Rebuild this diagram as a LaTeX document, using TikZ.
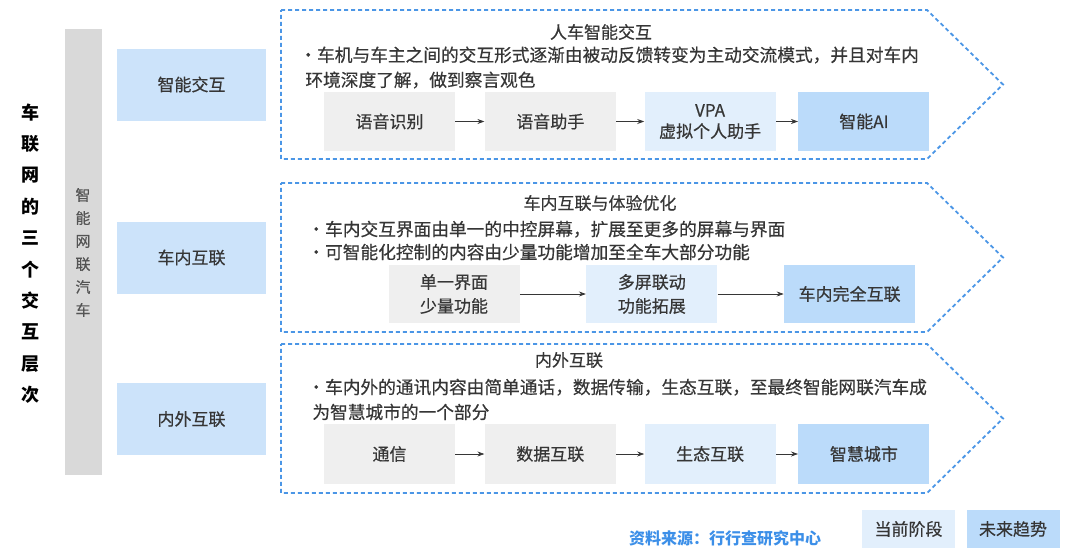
\documentclass[tikz,border=0pt]{standalone}
\usepackage{fontspec}
\setmainfont{Noto Sans CJK SC}
\newfontfamily\medfont{Noto Sans CJK SC}[FakeBold=0.5]
\usetikzlibrary{positioning,arrows.meta}
\definecolor{barGrey}{HTML}{D9D9D9}
\definecolor{sideBlue}{HTML}{CCE3FA}
\definecolor{oldGrey}{HTML}{EFEFEF}
\definecolor{nowBlue}{HTML}{E2EFFC}
\definecolor{futBlue}{HTML}{BBDBFA}
\definecolor{dashBlue}{HTML}{4B96E6}
\definecolor{txt}{HTML}{363636}
\definecolor{srcBlue}{HTML}{3C8FE8}

\begin{document}
\begin{tikzpicture}[x=1pt, y=-1pt, thick,
    stagebox/.style = {rectangle, inner sep=0pt, minimum width=131pt, minimum height=59pt, text=txt, align=center, font=\medfont\fontsize{17}{24}\selectfont},
    oldbox/.style = {stagebox, fill=oldGrey},
    nowbox/.style = {stagebox, fill=nowBlue},
    futbox/.style = {stagebox, fill=futBlue},
    sidebox/.style = {rectangle, inner sep=0pt, fill=sideBlue, minimum width=149pt, minimum height=72pt, text=txt, font=\medfont\fontsize{17}{20}\selectfont},
    keybox/.style = {rectangle, inner sep=0pt, minimum width=93pt, minimum height=38pt, text=txt, font=\medfont\fontsize{17}{20}\selectfont},
    notetext/.style = {inner sep=0pt, anchor=west, align=left, text=txt, font=\medfont\fontsize{17.7}{25}\selectfont},
    headtext/.style = {inner sep=0pt, text=txt, font=\medfont\fontsize{17}{20}\selectfont},
    panelline/.style = {draw=dashBlue, line width=1.8pt, dash pattern=on 4pt off 3pt},
    linkarrow/.style = {-{Stealth[length=7pt,width=5pt]}, line width=0.7pt, draw=txt}
    ]
\useasboundingbox (0,0) rectangle (1080,555);

\node[align=center, inner sep=0pt, font=\fontsize{18}{31.4}\selectfont\bfseries] (title) at (30,253.5) {车\\联\\网\\的\\三\\个\\交\\互\\层\\次};
\node[fill=barGrey, inner sep=0pt, minimum width=37pt, minimum height=446pt] (bar) at (83.5,252) {};
\node[align=center, inner sep=0pt, text=txt!85, font=\medfont\fontsize{15}{23}\selectfont] (bartext) at (83,252.5) {智\\能\\网\\联\\汽\\车};

\node[sidebox] (l1) at (191.5,84.5) {智能交互};
\node[sidebox] (l2) at (191.5,257.5) {车内互联};
\node[sidebox] (l3) at (191.5,419) {内外互联};

\draw[panelline] (281,10) -- (927,10) -- (1003,84.5) -- (927,159) -- (281,159) -- cycle;
\draw[panelline] (281,183) -- (927,183) -- (1003,257.5) -- (927,332) -- (281,332) -- cycle;
\draw[panelline] (281,344) -- (927,344) -- (1003,418.5) -- (927,493) -- (281,493) -- cycle;

\node[headtext] (h1) at (601,32) {人车智能交互};
\node[notetext] (n1) at (299,67.5) {•车机与车主之间的交互形式逐渐由被动反馈转变为主动交流模式，并且对车内\\\hspace*{6pt}环境深度了解，做到察言观色};
\node[oldbox] (s1) at (389.5,121.5) {语音识别};
\node[oldbox] (s2) [right=29pt of s1] {语音助手};
\node[nowbox, font=\medfont\fontsize{17}{21}\selectfont] (s3) [right=28pt of s2] {VPA\\虚拟个人助手};
\node[futbox] (s4) [right=22pt of s3] {智能AI};

\node[headtext] (h2) at (600,203) {车内互联与体验优化};
\node[notetext, font=\medfont\fontsize{17.7}{23}\selectfont] (n2) at (307,240.5) {•车内交互界面由单一的中控屏幕，扩展至更多的屏幕与界面\\•可智能化控制的内容由少量功能增加至全车大部分功能};
\node[oldbox, minimum height=58pt] (r1) at (454,294) {单一界面\\少量功能};
\node[nowbox, minimum height=58pt] (r2) [right=66pt of r1] {多屏联动\\功能拓展};
\node[futbox, minimum height=58pt] (r3) [right=66pt of r2] {车内完全互联};

\node[headtext] (h3) at (569,360) {内外互联};
\node[notetext] (n3) at (307,399.5) {•车内外的通讯内容由简单通话，数据传输，生态互联，至最终智能网联汽车成\\\hspace*{5pt}为智慧城市的一个部分};
\node[oldbox, minimum height=60pt] (t1) at (389.5,454) {通信};
\node[oldbox, minimum height=60pt] (t2) [right=29pt of t1] {数据互联};
\node[nowbox, minimum height=60pt] (t3) [right=28pt of t2] {生态互联};
\node[futbox, minimum height=60pt] (t4) [right=22pt of t3] {智慧城市};

\draw[linkarrow] (s1) -- (s2);
\draw[linkarrow] (s2) -- (s3);
\draw[linkarrow] (s3) -- (s4);
\draw[linkarrow] (r1) -- (r2);
\draw[linkarrow] (r2) -- (r3);
\draw[linkarrow] (t1) -- (t2);
\draw[linkarrow] (t2) -- (t3);
\draw[linkarrow] (t3) -- (t4);

\node[text=srcBlue, inner sep=0pt, font=\fontsize{16}{20}\selectfont\bfseries] (src) at (725,538) {资料来源：行行查研究中心};
\node[keybox, fill=nowBlue] (k1) at (908.5,529) {当前阶段};
\node[keybox, fill=futBlue] (k2) at (1013,529) {未来趋势};

\end{tikzpicture}
\end{document}
